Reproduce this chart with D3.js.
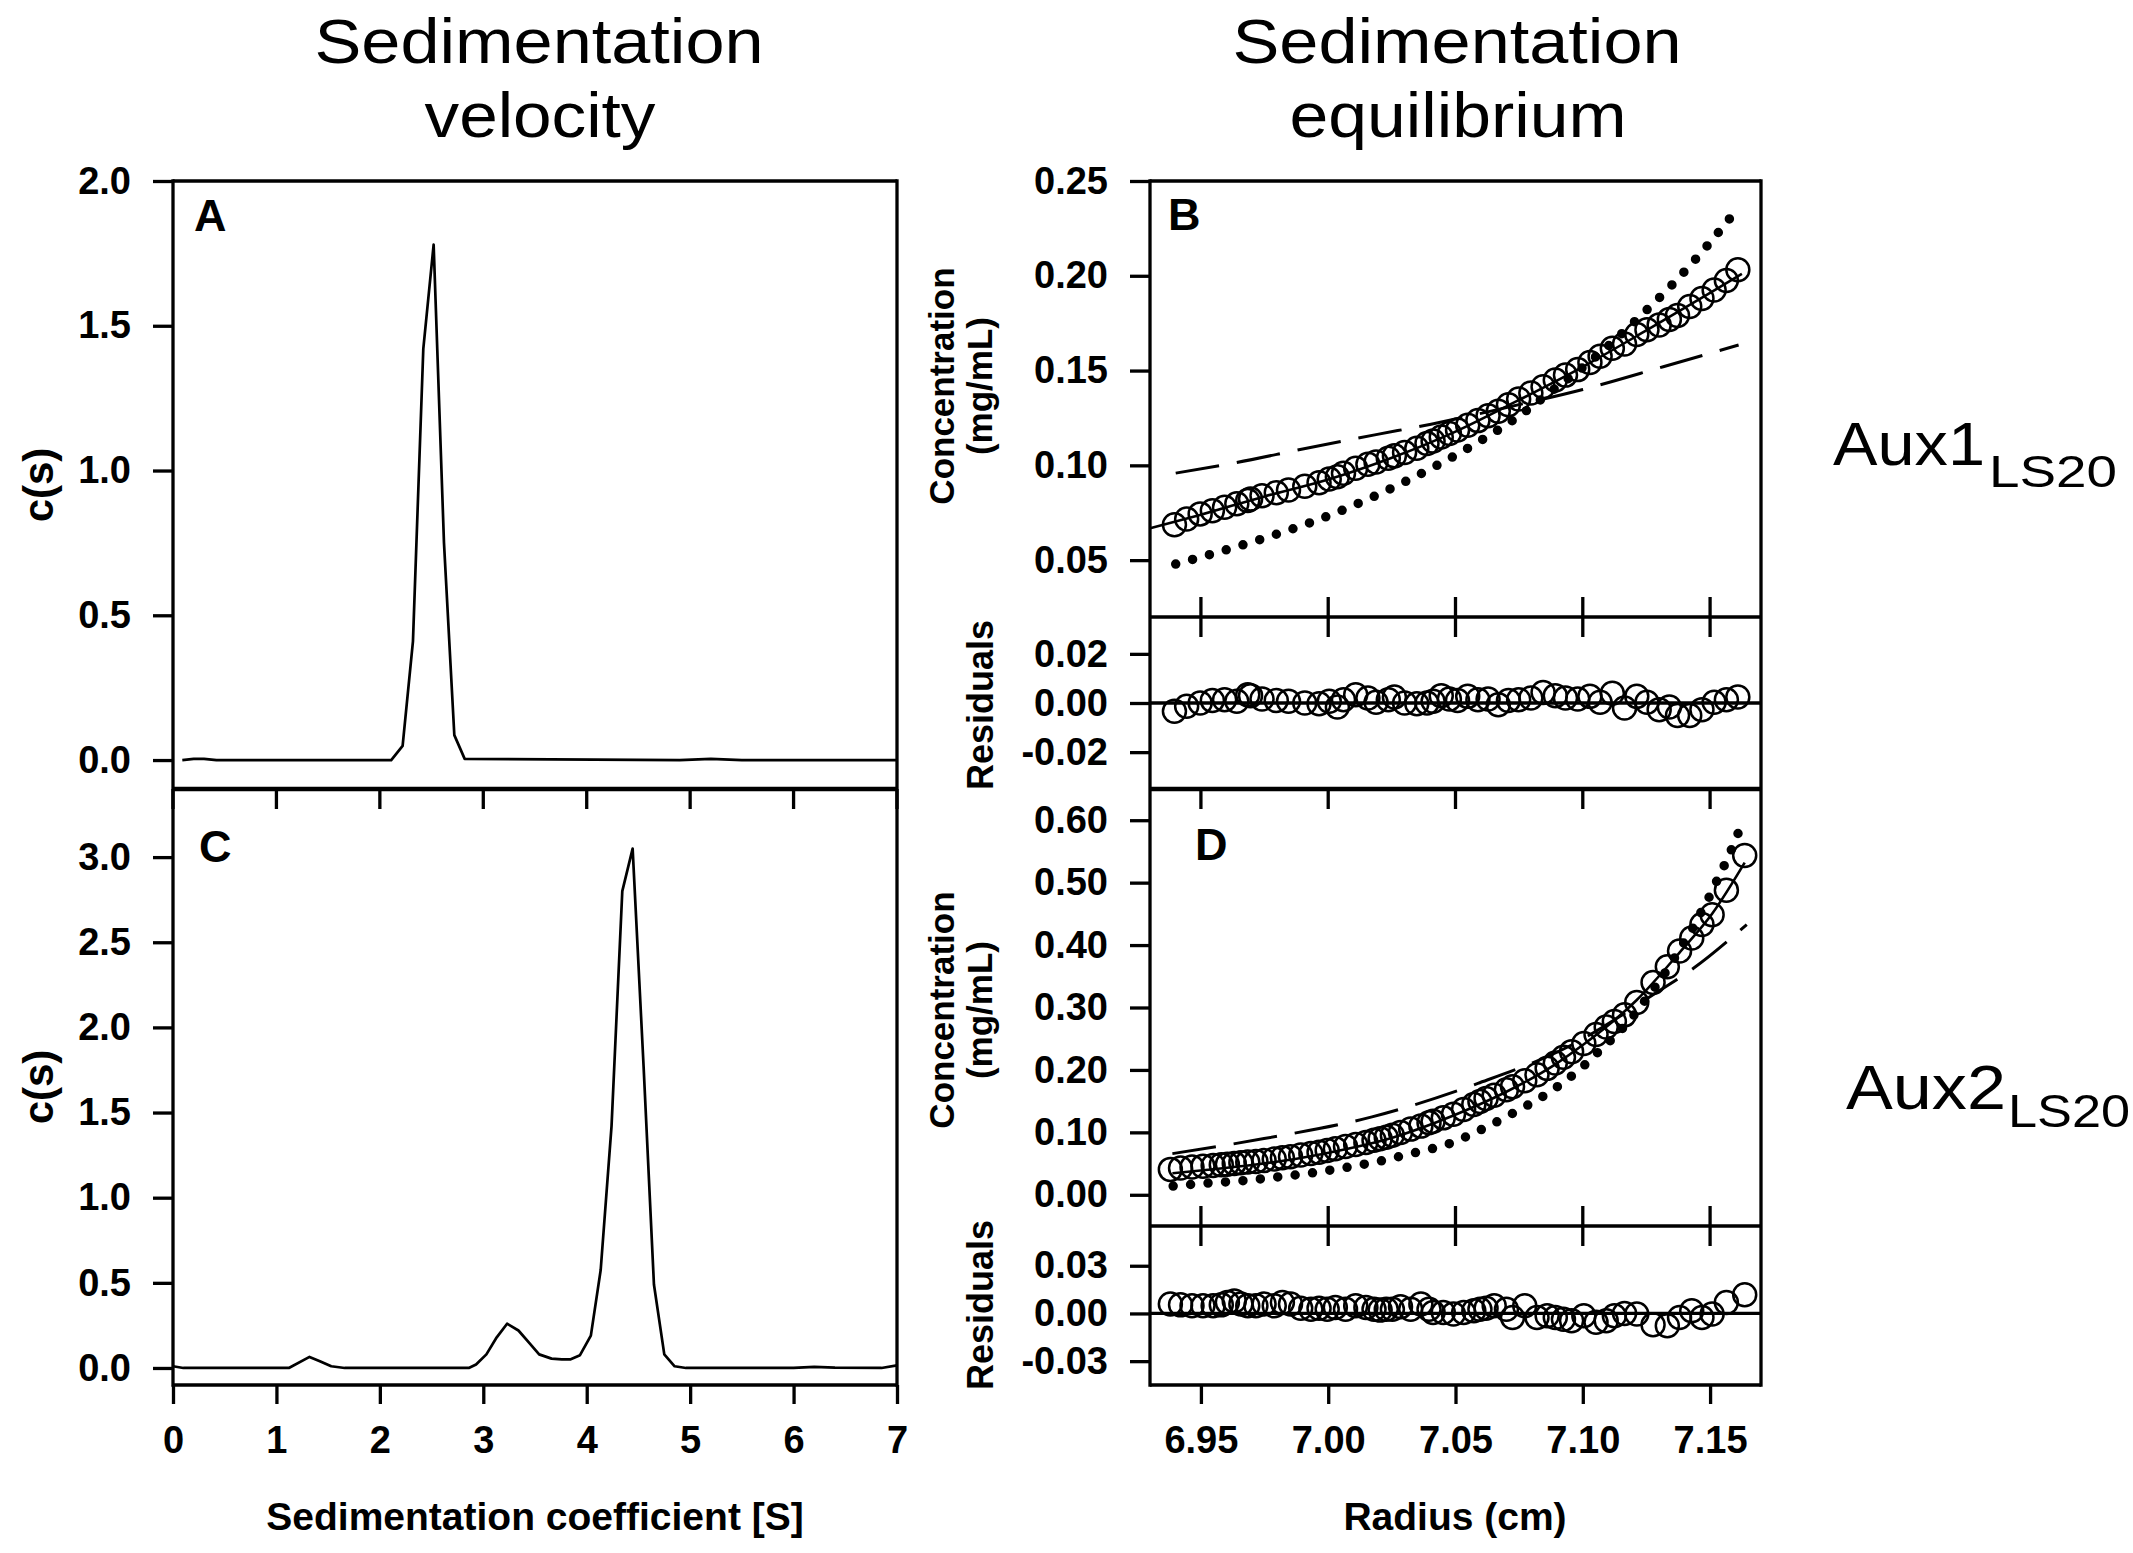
<!DOCTYPE html>
<html>
<head>
<meta charset="utf-8">
<script src="https://cdn.jsdelivr.net/npm/d3@7"></script>
<style>
  html, body { margin: 0; padding: 0; background: #fff; }
  svg { display: block; font-family: "Liberation Sans", Arial, Helvetica, sans-serif; }
</style>
</head>
<body>
<div id="chart"></div>
<script>
// ---- Panel A: c(s) distribution, Aux1 ----
const sA = [0.09, 0.20, 0.30, 0.42, 2.11, 2.22, 2.32, 2.42, 2.52, 2.62, 2.72, 2.82, 4.90, 5.20, 5.50, 7.00];
const cA = [0.000, 0.004, 0.004, 0.000, 0.000, 0.049, 0.41, 1.42, 1.78, 0.75, 0.086, 0.004, 0.000, 0.004, 0.000, 0.000];

// ---- Panel C: c(s) distribution, Aux2 ----
const sC = [0.00, 0.10, 1.12, 1.32, 1.42, 1.53, 1.66, 2.86, 2.93, 3.03, 3.13, 3.23, 3.34, 3.44, 3.54, 3.66, 3.76, 3.84,
            3.935, 4.04, 4.135, 4.24, 4.344, 4.444, 4.55, 4.65, 4.75, 4.85, 4.96, 6.00, 6.20, 6.40, 6.85, 7.00];
const cC = [0.010, 0.000, 0.000, 0.065, 0.040, 0.010, 0.000, 0.000, 0.020, 0.080, 0.180, 0.260, 0.220, 0.150, 0.080, 0.055, 0.050, 0.050,
            0.075, 0.190, 0.575, 1.420, 2.800, 3.050, 1.770, 0.490, 0.080, 0.010, 0.000, 0.000, 0.006, 0.002, 0.000, 0.015];

// ---- Panel B: equilibrium, Aux1 ----
const radiusB = [6.9396, 6.9444, 6.9497, 6.9545, 6.9593, 6.9641, 6.9684, 6.9695, 6.9740, 6.9796, 6.9844, 6.9908, 6.9964, 7.0004,
                 7.0036, 7.0060, 7.0108, 7.0156, 7.0188, 7.0236, 7.0260, 7.0300, 7.0348, 7.0388, 7.0412, 7.0444, 7.0476, 7.0508,
                 7.0548, 7.0588, 7.0628, 7.0668, 7.0708, 7.0748, 7.0796, 7.0844, 7.0892, 7.0932, 7.0980, 7.1028, 7.1068, 7.1116,
                 7.1164, 7.1212, 7.1252, 7.1300, 7.1340, 7.1372, 7.1420, 7.1468, 7.1516, 7.1564, 7.1609];
const concB = [0.0687, 0.0717, 0.0744, 0.0761, 0.0779, 0.0797, 0.0814, 0.0823, 0.0840, 0.0856, 0.0870, 0.0890, 0.0908, 0.0928,
               0.0940, 0.0958, 0.0985, 0.1006, 0.1018, 0.1037, 0.1050, 0.1068, 0.1090, 0.1115, 0.1128, 0.1150, 0.1168, 0.1187,
               0.1212, 0.1236, 0.1262, 0.1285, 0.1320, 0.1350, 0.1382, 0.1415, 0.1450, 0.1476, 0.1505, 0.1542, 0.1575, 0.1618,
               0.1640, 0.1690, 0.1715, 0.1741, 0.1770, 0.1790, 0.1838, 0.1880, 0.1925, 0.1975, 0.2032];
const residB = [-0.0034, -0.0013, 0.0000, 0.0010, 0.0013, 0.0007, 0.0034, 0.0030, 0.0016, 0.0010, 0.0007, 0.0000, -0.0003, 0.0007,
                -0.0016, 0.0013, 0.0034, 0.0020, 0.0003, 0.0013, 0.0024, 0.0000, -0.0003, 0.0000, 0.0007, 0.0030, 0.0016, 0.0010,
                0.0027, 0.0013, 0.0016, -0.0007, 0.0010, 0.0013, 0.0020, 0.0043, 0.0030, 0.0020, 0.0016, 0.0027, 0.0003, 0.0040,
                -0.0020, 0.0027, 0.0003, -0.0027, -0.0016, -0.0051, -0.0051, -0.0027, 0.0003, 0.0013, 0.0024];
const fitBr = [6.930, 6.950, 6.975, 7.000, 7.025, 7.050, 7.075, 7.100, 7.125, 7.150, 7.1625];
const fitBc = [0.0668, 0.0740, 0.0836, 0.0925, 0.1040, 0.1178, 0.1345, 0.1520, 0.1712, 0.1910, 0.2010];
const dashBr = [6.9401, 6.9640, 6.9900, 7.0188, 7.0404, 7.0700, 7.1000, 7.1316, 7.1612];
const dashBc = [0.0959, 0.1015, 0.1086, 0.1162, 0.1217, 0.1305, 0.1400, 0.1520, 0.1635];
const dotBr = [6.9401, 6.9740, 6.9940, 7.0076, 7.0276, 7.0409, 7.0612, 7.0745, 7.0879, 7.1015, 7.1148, 7.1215, 7.1348, 7.1412, 7.1529, 7.1585];
const dotBc = [0.0479, 0.0612, 0.0703, 0.0775, 0.0897, 0.0987, 0.1141, 0.1256, 0.1393, 0.1533, 0.1688, 0.1773, 0.1949, 0.2041, 0.2223, 0.2315];

// ---- Panel D: equilibrium, Aux2 ----
const radiusD = [6.9380, 6.9420, 6.9465, 6.9508, 6.9548, 6.9580, 6.9604, 6.9631, 6.9657, 6.9684, 6.9716, 6.9748, 6.9788, 6.9820,
                 6.9852, 6.9892, 6.9932, 6.9964, 6.9996, 7.0028, 7.0068, 7.0108, 7.0148, 7.0180, 7.0204, 7.0228, 7.0252, 7.0284,
                 7.0324, 7.0364, 7.0396, 7.0412, 7.0452, 7.0492, 7.0532, 7.0572, 7.0596, 7.0620, 7.0652, 7.0700, 7.0724, 7.0772,
                 7.0820, 7.0860, 7.0892, 7.0924, 7.0956, 7.1004, 7.1052, 7.1092, 7.1124, 7.1164, 7.1212, 7.1276, 7.1332, 7.1380,
                 7.1428, 7.1468, 7.1508, 7.1564, 7.1636];
const concD = [0.0407, 0.0428, 0.0444, 0.0459, 0.0469, 0.0480, 0.0490, 0.0503, 0.0515, 0.0526, 0.0534, 0.0549, 0.0573, 0.0594,
               0.0611, 0.0638, 0.0661, 0.0683, 0.0709, 0.0736, 0.0772, 0.0805, 0.0839, 0.0873, 0.0896, 0.0922, 0.0953, 0.0998,
               0.1052, 0.1100, 0.1155, 0.1179, 0.1232, 0.1290, 0.1366, 0.1446, 0.1494, 0.1543, 0.1596, 0.1684, 0.1730, 0.1825,
               0.1922, 0.2025, 0.2111, 0.2203, 0.2293, 0.2423, 0.2567, 0.2689, 0.2775, 0.2882, 0.3080, 0.3400, 0.3653, 0.3905,
               0.4114, 0.4328, 0.4484, 0.4880, 0.5434];
const residD = [0.0059, 0.0054, 0.0048, 0.0048, 0.0048, 0.0054, 0.0069, 0.0079, 0.0059, 0.0048, 0.0048, 0.0059, 0.0048, 0.0069,
                0.0059, 0.0033, 0.0027, 0.0033, 0.0027, 0.0038, 0.0027, 0.0048, 0.0038, 0.0027, 0.0021, 0.0027, 0.0027, 0.0042,
                0.0027, 0.0059, 0.0027, 0.0006, 0.0006, -0.0004, 0.0006, 0.0017, 0.0027, 0.0033, 0.0048, 0.0027, -0.0025, 0.0048,
                -0.0025, -0.0015, -0.0025, -0.0036, -0.0046, -0.0015, -0.0056, -0.0046, -0.0015, 0.0000, -0.0004, -0.0071, -0.0077, -0.0025,
                0.0017, -0.0025, -0.0004, 0.0069, 0.0117];
const fitDr = [6.9388, 6.9548, 6.9716, 6.9892, 7.0068, 7.0252, 7.0492, 7.0700, 7.0892, 7.1004, 7.1212, 7.1380, 7.1508, 7.1636];
const fitDc = [0.0345, 0.0408, 0.0485, 0.0590, 0.0730, 0.0915, 0.1270, 0.1650, 0.2090, 0.2410, 0.3120, 0.3880, 0.4500, 0.5320];
const dashDr = [6.9388, 6.9748, 7.0172, 7.0588, 7.0956, 7.1276, 7.1436, 7.1644];
const dashDc = [0.0659, 0.0900, 0.1248, 0.1784, 0.2400, 0.3203, 0.3632, 0.4328];
const dotDr = [6.9391, 6.9527, 6.9663, 6.9796, 6.9932, 7.0065, 7.0199, 7.0332, 7.0468, 7.0601, 7.0735, 7.0871, 7.1004,
               7.1071, 7.1140, 7.1199, 7.1252, 7.1300, 7.1345, 7.1388, 7.1428, 7.1465, 7.1500, 7.1532, 7.1564, 7.1620];
const dotDc = [0.0139, 0.0188, 0.0225, 0.0284, 0.0348, 0.0434, 0.0536, 0.0666, 0.0808, 0.1044, 0.1328, 0.1650, 0.2068,
               0.2330, 0.2596, 0.2870, 0.3151, 0.3420, 0.3690, 0.3980, 0.4243, 0.4530, 0.4799, 0.5078, 0.5346, 0.5892];

// ---- tick labels ----
const ticksS = [0, 1, 2, 3, 4, 5, 6, 7];
const ticksR = [6.95, 7.00, 7.05, 7.10, 7.15];
const ticksA = [0, 0.5, 1.0, 1.5, 2.0];
const ticksC = [0, 0.5, 1.0, 1.5, 2.0, 2.5, 3.0];
const ticksB = [0.05, 0.10, 0.15, 0.20, 0.25];
const ticksBr = [-0.02, 0, 0.02];
const ticksD = [0, 0.10, 0.20, 0.30, 0.40, 0.50, 0.60];
const ticksDr = [-0.03, 0, 0.03];

const W = 2133, H = 1553;
const svg = d3.select("#chart").append("svg").attr("width", W).attr("height", H);

// 面板位置
const leftX = [173, 897], rightX = [1150, 1761];
const yTop = 181, yMid = 789, yBottom = 1385, sepB = 617, sepD = 1226;

const xS = d3.scaleLinear().domain([0, 7]).range(leftX);
const xR = d3.scaleLinear().domain([6.93, 7.17]).range(rightX);
const yA = d3.scaleLinear().domain([-0.1, 2.0]).range([yMid, yTop]);
const yC = d3.scaleLinear().domain([-0.1, 3.4]).range([yBottom, yMid]);
const yB = d3.scaleLinear().domain([0.02, 0.25]).range([sepB, yTop]);
const yBr = d3.scaleLinear().domain([-0.035, 0.035]).range([yMid, sepB]);
const yD = d3.scaleLinear().domain([-0.05, 0.65]).range([sepD, yMid]);
const yDr = d3.scaleLinear().domain([-0.045, 0.055]).range([yBottom, sepD]);

const LW = 3.3;

// 左侧 Y 轴
function leftAxis(scale, x, ticks, digits) {
    const g = svg.append("g")
        .attr("transform", `translate(${x},0)`)
        .call(d3.axisLeft(scale).tickValues(ticks)
            .tickFormat(d => d.toFixed(digits))
            .tickSize(20).tickSizeOuter(0).tickPadding(22));
    g.select(".domain").remove();
    g.selectAll("line").attr("stroke", "#000").attr("stroke-width", LW);
    g.selectAll("text")
        .attr("font-size", 38)
        .attr("font-weight", "bold")
        .attr("fill", "#000")
        .attr("font-family", "Liberation Sans, Arial, sans-serif");
}

// X 方向刻度（无标签）
function xTicks(scale, ticks, y, up, down) {
    svg.append("g").selectAll("line").data(ticks).join("line")
        .attr("x1", d => scale(d)).attr("x2", d => scale(d))
        .attr("y1", y - up).attr("y2", y + down)
        .attr("stroke", "#000").attr("stroke-width", LW);
}

// 底部 X 轴（带标签）
function bottomAxis(scale, ticks, fmt) {
    const g = svg.append("g")
        .attr("transform", `translate(0,${yBottom})`)
        .call(d3.axisBottom(scale).tickValues(ticks).tickFormat(fmt)
            .tickSize(19).tickSizeOuter(0).tickPadding(22));
    g.select(".domain").remove();
    g.selectAll("line").attr("stroke", "#000").attr("stroke-width", LW);
    g.selectAll("text")
        .attr("font-size", 38)
        .attr("font-weight", "bold")
        .attr("fill", "#000")
        .attr("font-family", "Liberation Sans, Arial, sans-serif");
}

function hline(x0, x1, y, w) {
    svg.append("line").attr("x1", x0).attr("x2", x1).attr("y1", y).attr("y2", y)
        .attr("stroke", "#000").attr("stroke-width", w || LW);
}
function vline(x, y0, y1) {
    svg.append("line").attr("x1", x).attr("x2", x).attr("y1", y0).attr("y2", y1)
        .attr("stroke", "#000").attr("stroke-width", LW);
}

function zip(a, b) { return a.map((v, i) => [v, b[i]]); }

// ---- 左列：沉降速度 ----
const csLine = (ys) => d3.line().x(d => xS(d[0])).y(d => ys(d[1]));

svg.append("path").datum(zip(sA, cA))
    .attr("fill", "none").attr("stroke", "#000").attr("stroke-width", 2.7)
    .attr("stroke-linejoin", "round").attr("d", csLine(yA));
svg.append("path").datum(zip(sC, cC))
    .attr("fill", "none").attr("stroke", "#000").attr("stroke-width", 2.7)
    .attr("stroke-linejoin", "round").attr("d", csLine(yC));

leftAxis(yA, leftX[0], ticksA, 1);
leftAxis(yC, leftX[0], ticksC, 1);
xTicks(xS, ticksS, yMid, 0, 20);
bottomAxis(xS, ticksS, d => d.toFixed(0));

// ---- 右列：沉降平衡 ----
function drawEquil(xs, ys, yr, r, c, res, fit, dash, dot) {
    const line = d3.line().x(d => xs(d[0])).y(d => ys(d[1])).curve(d3.curveMonotoneX);
    svg.append("path").datum(dot)
        .attr("fill", "none").attr("stroke", "#000").attr("stroke-width", 9.5)
        .attr("stroke-linecap", "round").attr("stroke-dasharray", "0,17.5")
        .attr("d", line);
    svg.append("path").datum(dash)
        .attr("fill", "none").attr("stroke", "#000").attr("stroke-width", 3)
        .attr("stroke-dasharray", "44,18")
        .attr("d", line);
    svg.append("path").datum(fit)
        .attr("fill", "none").attr("stroke", "#000").attr("stroke-width", 2.6)
        .attr("d", line);
    svg.append("g").selectAll("circle").data(zip(r, c)).join("circle")
        .attr("cx", d => xs(d[0])).attr("cy", d => ys(d[1])).attr("r", 11.5)
        .attr("fill", "none").attr("stroke", "#000").attr("stroke-width", 2.5);
    // 残差
    hline(rightX[0], rightX[1], yr(0), LW);
    svg.append("g").selectAll("circle").data(zip(r, res)).join("circle")
        .attr("cx", d => xs(d[0])).attr("cy", d => yr(d[1])).attr("r", 11.5)
        .attr("fill", "none").attr("stroke", "#000").attr("stroke-width", 2.5);
}

drawEquil(xR, yB, yBr, radiusB, concB, residB, zip(fitBr, fitBc), zip(dashBr, dashBc), zip(dotBr, dotBc));
drawEquil(xR, yD, yDr, radiusD, concD, residD, zip(fitDr, fitDc), zip(dashDr, dashDc), zip(dotDr, dotDc));

leftAxis(yB, rightX[0], ticksB, 2);
leftAxis(yBr, rightX[0], ticksBr, 2);
leftAxis(yD, rightX[0], ticksD, 2);
leftAxis(yDr, rightX[0], ticksDr, 2);
xTicks(xR, ticksR, sepB, 20, 20);
xTicks(xR, ticksR, yMid, 0, 20);
xTicks(xR, ticksR, sepD, 20, 20);
bottomAxis(xR, ticksR, d => d.toFixed(2));

// ---- 边框 ----
[leftX, rightX].forEach(xr => {
    vline(xr[0], yTop - LW / 2, yBottom + LW / 2);
    vline(xr[1], yTop - LW / 2, yBottom + LW / 2);
    hline(xr[0], xr[1], yTop);
    hline(xr[0], xr[1], yMid, 4.5);
    hline(xr[0], xr[1], yBottom);
});
hline(rightX[0], rightX[1], sepB);
hline(rightX[0], rightX[1], sepD);

// ---- 文本 ----
function label(txt, x, y, size, opts) {
    opts = opts || {};
    const t = svg.append("text")
        .attr("x", x).attr("y", y)
        .attr("font-size", size)
        .attr("font-weight", opts.bold ? "bold" : "normal")
        .attr("text-anchor", opts.anchor || "start")
        .attr("fill", "#000")
        .text(txt);
    if (opts.len) t.attr("textLength", opts.len).attr("lengthAdjust", "spacingAndGlyphs");
    if (opts.rotate) t.attr("transform", `rotate(-90,${x},${y})`).attr("dy", "0.35em");
    return t;
}

// 标题
label("Sedimentation", 539, 63, 63, { anchor: "middle", len: 449 });
label("velocity", 540, 137, 63, { anchor: "middle", len: 231 });
label("Sedimentation", 1457, 63, 63, { anchor: "middle", len: 449 });
label("equilibrium", 1458, 137, 63, { anchor: "middle", len: 337 });

// 面板字母
label("A", 194, 231, 45, { bold: true });
label("B", 1168, 230, 45, { bold: true });
label("C", 199, 862, 45, { bold: true });
label("D", 1195, 860, 45, { bold: true });

// 轴标题
label("c(s)", 38, 485, 42, { bold: true, anchor: "middle", rotate: true });
label("c(s)", 38, 1087, 42, { bold: true, anchor: "middle", rotate: true });
label("Concentration", 942, 386, 35, { bold: true, anchor: "middle", rotate: true });
label("(mg/mL)", 980, 386, 35, { bold: true, anchor: "middle", rotate: true });
label("Concentration", 942, 1010, 35, { bold: true, anchor: "middle", rotate: true });
label("(mg/mL)", 980, 1010, 35, { bold: true, anchor: "middle", rotate: true });
label("Residuals", 980, 705, 36, { bold: true, anchor: "middle", rotate: true });
label("Residuals", 980, 1305, 36, { bold: true, anchor: "middle", rotate: true });
label("Sedimentation coefficient [S]", 535, 1530, 39, { bold: true, anchor: "middle" });
label("Radius (cm)", 1455, 1530, 39, { bold: true, anchor: "middle" });

// 样品名
label("Aux1", 1833, 465, 61, { len: 152 });
label("LS20", 1989, 487, 45, { len: 128 });
label("Aux2", 1846, 1109, 63, { len: 160 });
label("LS20", 2008, 1127, 46, { len: 122 });
</script>
</body>
</html>
